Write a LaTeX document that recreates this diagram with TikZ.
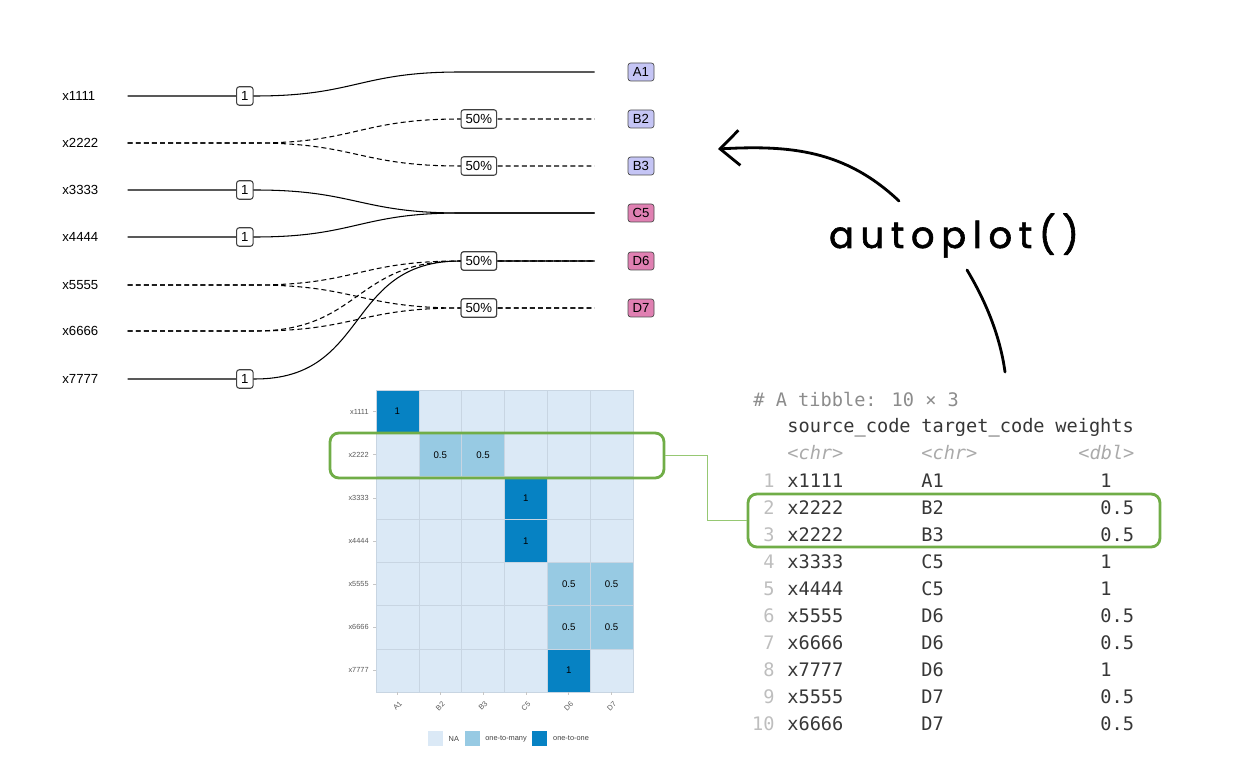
\documentclass[tikz,border=0pt]{standalone}
\usepackage{fontspec}
\setmainfont{Liberation Sans}
\newfontfamily\monofont{DejaVu Sans Mono}
\newfontfamily\handfont[LetterSpace=18,FakeBold=1.6]{Poppins}
\usepackage{xcolor}
\usepackage{tikz}
\usetikzlibrary{arrows.meta,positioning,calc}
\definecolor{lav}{RGB}{197,197,245}
\definecolor{pnk}{RGB}{224,128,178}
\definecolor{naC}{RGB}{219,233,246}
\definecolor{manyC}{RGB}{151,202,227}
\definecolor{oneC}{RGB}{6,130,195}
\definecolor{gridC}{RGB}{200,213,226}
\definecolor{hlgreen}{RGB}{112,173,71}
\definecolor{linkgreen}{RGB}{150,200,115}
\definecolor{ttgray}{RGB}{140,140,140}
\definecolor{hdgray}{RGB}{55,55,55}
\definecolor{subgray}{RGB}{170,170,170}
\definecolor{numgray}{RGB}{190,190,190}

\begin{document}
\begin{tikzpicture}[x=0.02cm,y=-0.02cm,
 src/.style={anchor=west,inner sep=0,text width=1.3cm,font=\fontsize{7.5}{9}\selectfont},
 tgt/.style={draw=black!70,rounded corners=1.5pt,minimum width=0.52cm,minimum height=0.36cm,inner sep=1pt,font=\fontsize{7.5}{9}\selectfont},
 wlab/.style={solid,draw=black!75,fill=white,rounded corners=1.5pt,inner xsep=2.6pt,inner ysep=0pt,minimum height=0.37cm,font=\fontsize{7.5}{9}\selectfont},
 sline/.style={line width=0.6pt},
 dline/.style={line width=0.6pt,dash pattern=on 2.8pt off 1.8pt},
 sig/.style={out=0,in=180,looseness=1.25},
 tile/.style={draw=gridC,line width=0.3pt},
 cell/.style={inner sep=0,font=\fontsize{5.5}{6}\selectfont},
 hy/.style={anchor=east,inner sep=0,text=black!65,font=\fontsize{4.2}{5}\selectfont},
 hx/.style={inner sep=0,text=black!65,font=\fontsize{4.2}{5}\selectfont},
 key/.style={minimum size=0.3cm,inner sep=0},
 lg/.style={inner sep=0,text=black!75,font=\fontsize{4.2}{5}\selectfont},
 hlbox/.style={draw=hlgreen,line width=1.6pt,rounded corners=5pt,inner sep=0},
 tt/.style={inner sep=0,font=\monofont\fontsize{10.6}{12}\selectfont},
 hand/.style={line width=1.6pt,line cap=round}]
\useasboundingbox (0,0) rectangle (1250,780);

\node[src] (s1) at (62,96) {x1111};
\node[src] (s2) at (62,143) {x2222};
\node[src] (s3) at (62,190) {x3333};
\node[src] (s4) at (62,237) {x4444};
\node[src] (s5) at (62,285) {x5555};
\node[src] (s6) at (62,331) {x6666};
\node[src] (s7) at (62,379) {x7777};

\node[tgt,fill=lav] (A1) at (641,72) {A1};
\node[tgt,fill=lav] (B2) at (641,119) {B2};
\node[tgt,fill=lav] (B3) at (641,166) {B3};
\node[tgt,fill=pnk] (C5) at (641,213) {C5};
\node[tgt,fill=pnk] (D6) at (641,261) {D6};
\node[tgt,fill=pnk] (D7) at (641,308) {D7};

\coordinate (bl) at (255,0);
\coordinate (br) at (460,0);
\coordinate (eA1) at ([xshift=-0.66cm]A1.west);
\coordinate (eB2) at ([xshift=-0.66cm]B2.west);
\coordinate (eB3) at ([xshift=-0.66cm]B3.west);
\coordinate (eC5) at ([xshift=-0.66cm]C5.west);
\coordinate (eD6) at ([xshift=-0.66cm]D6.west);
\coordinate (eD7) at ([xshift=-0.66cm]D7.west);

\draw[sline](s1.east)--node[wlab,pos=.92]{1}(s1.east-|bl) to[sig] (eA1-|br)--(eA1);
\draw[dline](s2.east)--(s2.east-|bl) to[sig] (eB2-|br)--node[wlab,pos=.14]{50\%}(eB2);
\draw[dline](s2.east)--(s2.east-|bl) to[sig] (eB3-|br)--node[wlab,pos=.14]{50\%}(eB3);
\draw[sline](s3.east)--node[wlab,pos=.92]{1}(s3.east-|bl) to[sig] (eC5-|br)--(eC5);
\draw[sline](s4.east)--node[wlab,pos=.92]{1}(s4.east-|bl) to[sig] (eC5-|br)--(eC5);
\draw[sline](s7.east)--node[wlab,pos=.92]{1}(s7.east-|bl) to[sig] (eD6-|br)--(eD6);
\draw[dline](s5.east)--(s5.east-|bl) to[sig] (eD6-|br)--node[wlab,pos=.14]{50\%}(eD6);
\draw[dline](s6.east)--(s6.east-|bl) to[sig] (eD6-|br)--node[wlab,pos=.14]{50\%}(eD6);
\draw[dline](s5.east)--(s5.east-|bl) to[sig] (eD7-|br)--node[wlab,pos=.14]{50\%}(eD7);
\draw[dline](s6.east)--(s6.east-|bl) to[sig] (eD7-|br)--node[wlab,pos=.14]{50\%}(eD7);

\foreach \r in {0,...,6}
 \foreach \c in {0,...,5}
  \filldraw[tile,fill=naC] ({376+\c*42.83},{390+\r*43.14}) rectangle ++(42.83,43.14);
\foreach \c/\r/\col/\val in {0/0/oneC/1,1/1/manyC/0.5,2/1/manyC/0.5,3/2/oneC/1,3/3/oneC/1,
 4/4/manyC/0.5,5/4/manyC/0.5,4/5/manyC/0.5,5/5/manyC/0.5,4/6/oneC/1}{
 \filldraw[tile,fill=\col] ({376+\c*42.83},{390+\r*43.14}) rectangle ++(42.83,43.14);
 \node[cell] (v\c\r) at ({376+(\c+0.5)*42.83},{390+(\r+0.5)*43.14}) {\val};
}
\foreach \s [count=\i from 0] in {x1111,x2222,x3333,x4444,x5555,x6666,x7777}{
 \draw[gray!45,line width=0.3pt] (373,{390+(\i+0.5)*43.14})--(376,{390+(\i+0.5)*43.14});
 \node[hy] (hy\i) at (369,{390+(\i+0.5)*43.14}) {\s};
}
\foreach \t [count=\i from 0] in {A1,B2,B3,C5,D6,D7}{
 \draw[gray!45,line width=0.3pt] ({376+(\i+0.5)*42.83},692)--({376+(\i+0.5)*42.83},695);
 \node[hx,rotate=45] (hx\i) at ({376+(\i+0.5)*42.83},706) {\t};
}

\node[key,fill=naC] (k1) at (435.5,738.5) {};
\node[lg,right=0.1cm of k1] (l1) {NA};
\node[key,fill=manyC,right=0.1cm of l1] (k2) {};
\node[lg,right=0.1cm of k2] (l2) {one-to-many};
\node[key,fill=oneC,right=0.1cm of l2] (k3) {};
\node[lg,right=0.1cm of k3] (l3) {one-to-one};

\node[tt,anchor=base west,text=ttgray] (ttl) at (753,406) {\# A tibble: 10 × 3};
\node[tt,anchor=base west,text=hdgray] (h1) at (787,432) {source\_code};
\node[tt,anchor=base west,text=hdgray] (h2) at (921,432) {target\_code};
\node[tt,anchor=base west,text=hdgray] (h3) at (1055,432) {weights};
\node[tt,anchor=base west,text=subgray,font=\monofont\itshape\fontsize{10.6}{12}\selectfont] (c1) at (787,459) {<chr>};
\node[tt,anchor=base west,text=subgray,font=\monofont\itshape\fontsize{10.6}{12}\selectfont] (c2) at (921,459) {<chr>};
\node[tt,anchor=base west,text=subgray,font=\monofont\itshape\fontsize{10.6}{12}\selectfont] (c3) at (1078,459) {<dbl>};
\foreach \src/\tg/\w [count=\n] in {x1111/A1/1,x2222/B2/0.5,x2222/B3/0.5,x3333/C5/1,x4444/C5/1,
 x5555/D6/0.5,x6666/D6/0.5,x7777/D6/1,x5555/D7/0.5,x6666/D7/0.5}{
 \node[tt,anchor=base east,text=numgray] (rn\n) at (775,{487+(\n-1)*27}) {\n};
 \node[tt,anchor=base west,text=hdgray] (rs\n) at (787,{487+(\n-1)*27}) {\src};
 \node[tt,anchor=base west,text=hdgray] (rt\n) at (921,{487+(\n-1)*27}) {\tg};
 \node[tt,anchor=base west,text=hdgray] (rw\n) at (1100,{487+(\n-1)*27}) {\w};
}

\node[hlbox,minimum width=6.68cm,minimum height=0.9cm] (hl1) at (497,455.5) {};
\node[hlbox,minimum width=8.24cm,minimum height=1.06cm] (hl2) at (954,520.5) {};
\draw[linkgreen,line width=0.9pt] (hl1.east)--++(42,0)|-(hl2.west);

\node[inner sep=0,anchor=base,font=\handfont\fontsize{21}{24}\selectfont] (ap) at (954,248) {autoplot()};
\coordinate (apa) at (899,201);
\coordinate (plt) at (718,149);
\coordinate (apb) at (967,270);
\coordinate (tbl) at (1005,372);
\draw[hand,-{Straight Barb[length=11pt,width=20pt]}] (apa) .. controls (845,150) and (790,145) .. (plt);
\draw[hand] (apb) .. controls (985,300) and (1000,335) .. (tbl);
\end{tikzpicture}
\end{document}
